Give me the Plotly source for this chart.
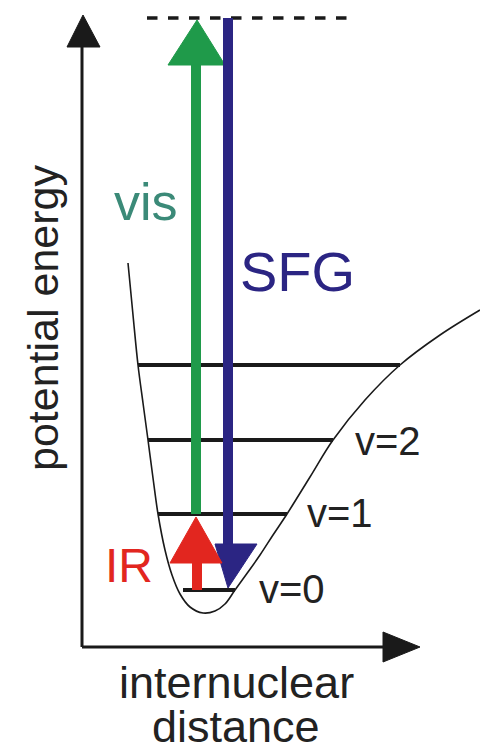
import plotly.graph_objects as go

W, H = 480, 746

# Potential energy curve (x = internuclear distance, y = energy), in diagram units
curve_x = [128, 133, 138, 143, 148, 153, 158, 165, 172, 180, 190, 203, 215, 225, 235, 248, 260, 273, 287, 310, 333, 365, 400, 440, 480]
curve_y = [483, 431, 381, 343, 306, 268, 232, 196, 171, 152, 139, 133, 135, 142, 156, 174, 191, 211, 232, 269, 306, 346, 381, 411, 436]

# Vibrational levels
level_names = ["v=0", "v=1", "v=2", ""]
level_y = [156, 232, 306, 381]
level_x0 = [183, 158, 148, 138]
level_x1 = [235, 287, 333, 400]

virtual_y = 728
x_axis_y = 99
y_axis_x = 82

green = "#1f9a4a"
blue = "#2b2583"
red = "#e2261f"
ink = "#1a1a1a"

fig = go.Figure()

def line(xs, ys, color, width, dash=None, shape="linear"):
    fig.add_trace(go.Scatter(x=xs, y=ys, mode="lines",
                             line=dict(color=color, width=width, dash=dash, shape=shape),
                             hoverinfo="skip", showlegend=False))

def tri(xs, ys, color):
    fig.add_trace(go.Scatter(x=xs, y=ys, mode="lines", fill="toself",
                             fillcolor=color, line=dict(color=color, width=1),
                             hoverinfo="skip", showlegend=False))

# axes
line([y_axis_x, y_axis_x], [x_axis_y, 705], ink, 3)
tri([67, 83, 100, 67], [699, 731, 699, 699], ink)
line([y_axis_x, 388], [x_axis_y, x_axis_y], ink, 3)
tri([383, 420, 383, 383], [114, 99, 84, 114], ink)

# virtual level (dashed)
line([147, 350], [virtual_y, virtual_y], ink, 3.5, "dash")

# potential curve
line(curve_x, curve_y, ink, 1.6, shape="spline")

# levels
for y, a, b in zip(level_y, level_x0, level_x1):
    line([a, b], [y, y], ink, 4)

# green (vis) arrow
line([196, 196], [level_y[1], 683], green, 10)
tri([168, 197, 225, 168], [681, 726, 681, 681], green)
# blue (SFG) arrow
line([228, 228], [virtual_y, 200], blue, 10)
tri([215, 228, 257, 215], [202, 158, 202, 202], blue)
# red (IR) arrow
line([197, 197], [level_y[0], 185], red, 10)
tri([170, 196, 222, 170], [183, 229, 183, 183], red)

font = "Liberation Sans, Arial"
ann = [
    dict(x=146, y=544, text="vis", color="#3b8a78", size=52),
    dict(x=297, y=475, text="SFG", color=blue, size=56),
    dict(x=388, y=305, text="v=2", color="#222", size=40),
    dict(x=340, y=233, text="v=1", color="#222", size=40),
    dict(x=292, y=157, text="v=0", color="#222", size=40),
    dict(x=129, y=181, text="IR", color=red, size=48),
    dict(x=236, y=64, text="internuclear", color="#222", size=45),
    dict(x=236, y=20, text="distance", color="#222", size=45),
]
for a in ann:
    fig.add_annotation(x=a["x"], y=a["y"], text=a["text"], showarrow=False,
                       font=dict(family=font, size=a["size"], color=a["color"]),
                       xanchor="center", yanchor="middle")
fig.add_annotation(x=43, y=428, text="potential energy", showarrow=False, textangle=-90,
                   font=dict(family=font, size=43, color="#222"),
                   xanchor="center", yanchor="middle")

fig.update_layout(width=W, height=H, margin=dict(l=0, r=0, t=0, b=0),
                  plot_bgcolor="white", paper_bgcolor="white",
                  xaxis=dict(range=[0, W], visible=False, fixedrange=True),
                  yaxis=dict(range=[0, H], visible=False, fixedrange=True))
fig.write_html("out.html", post_script="document.body.style.margin='0';document.body.style.overflow='hidden';",
               config={"displayModeBar": False})
